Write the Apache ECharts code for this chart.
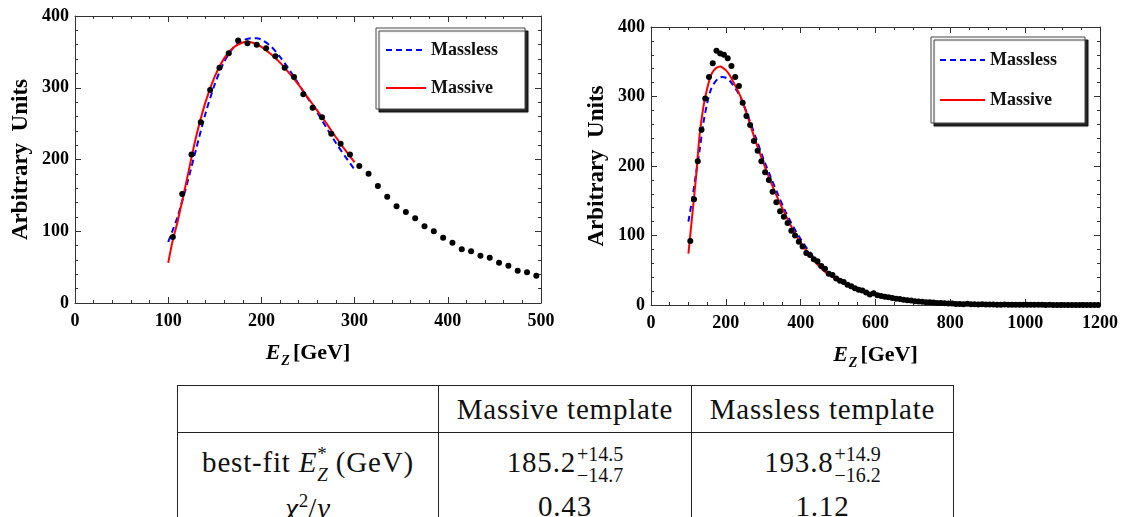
<!DOCTYPE html>
<html>
<head>
<meta charset="utf-8">
<script src="https://cdn.jsdelivr.net/npm/echarts@6/dist/echarts.min.js"></script>
<style>
  html, body { margin: 0; padding: 0; background: #fff; }
  #page { position: relative; width: 1121px; height: 517px; overflow: hidden; }
  #chart { position: absolute; left: 0; top: 0; width: 1121px; height: 382px; }
  #fits { position: absolute; left: 177px; top: 385px; border-collapse: collapse;
          font-family: 'Liberation Serif', 'Times New Roman', Times, 'DejaVu Serif', serif;
          font-size: 29px; letter-spacing: 0.8px; color: #111; }
  #fits td { border: 1.5px solid #222; text-align: center; vertical-align: middle; padding: 0;
             white-space: nowrap; line-height: 1; }
  #fits tr.mid td { border-bottom: none; padding-top: 6px; }
  #fits tr.last td { border-top: none; }
  .ss { display: inline-flex; flex-direction: column; vertical-align: middle; line-height: 1.05;
        font-size: 20px; letter-spacing: 0; text-align: left; margin-left: 1px; }
  .ss span { display: block; }
  .ssE { display: inline-flex; flex-direction: column; vertical-align: middle; line-height: 1.1;
         font-size: 19px; letter-spacing: 0; text-align: left; }
  sup { font-size: 19px; letter-spacing: 0; }
</style>
</head>
<body>
<div id="page">
  <div id="chart"></div>
  <table id="fits"></table>
</div>
<script>
// histogram bin centres (GeV) and contents
const binE = [105,115,125,135,145,155,165,175,185,195,205,215,225,235,245,255,265,275,285,295,
  305,315,325,335,345,355,365,375,385,395,405,415,425,435,445,455,465,475,485,495,
  505,515,525,535,545,555,565,575,585,595,605,615,625,635,645,655,665,675,685,695,
  705,715,725,735,745,755,765,775,785,795,805,815,825,835,845,855,865,875,885,895,
  905,915,925,935,945,955,965,975,985,995,1005,1015,1025,1035,1045,1055,1065,1075,1085,1095,
  1105,1115,1125,1135,1145,1155,1165,1175,1185,1195]
const counts = [92,152,207,252,297,328,348,366,362,360,355,344,328,315,291,272,259,236,222,207,
  191,180,163,148,135,127,118,107,100,91,84,75,72,66,63,56,52,45,43,38,
  35,33,29,27,24,22,21,18,15,17,14,13,12,11,10,9,8.5,7.5,7,6.5,
  5.5,5,4.5,4,4,3.5,3,3,2.5,2,2,1.5,1.5,1.2,1.8,1,1,0.8,1,0.7,
  0.6,0.8,0.5,0.5,0.7,0.4,0.4,0.5,0.3,0.3,0.3,0.2,0.3,0.2,0.2,0.1,0.2,0.1,0.1,0.1,
  0.1,0.1,0.1,0.1,0,0.1,0,0,0,0]

// fits over 100-300 GeV (left panel)
const leftMassiveE = [100,105,110,120,130,140,150,160,170,180,185,190,200,210,220,230,240,250,260,270,280,290,300]
const leftMassive = [56,88,113,172,232,280,316,341,356,363,364,363,357,347,335,320,304,286,268,250,231,213,196]
const leftMasslessE = [100,110,120,130,140,150,160,170,180,190,195,200,210,220,230,240,250,260,270,280,290,300]
const leftMassless = [85,120,165,215,264,305,336,356,366,369,369,367,358,343,325,305,285,265,244,223,204,186]

// fits over the full range (right panel)
const rightMassiveE = [100,110,120,130,140,150,160,170,180,186,190,200,210,220,240,260,280,300,320,340,360,380,400,
  420,440,460,480,500,550,600,650,700,750,800,850,900,1000,1100,1200]
const rightMassive = [74,128,182,245,285,311,330,339,342.5,343,342,338,331,321,299,268,235,205,177,152,129,108,90,
  75,61,50,42,36,22,14,9,6,4,2.6,1.7,1.1,0.5,0.2,0.1]
const rightMasslessE = [100,110,120,130,140,150,160,170,180,190,200,210,220,230,240,250,260,280,300,320,340,360,380,400,
  420,440,460,480,500,550,600,650,700,750,800,850,900,1000,1100,1200]
const rightMassless = [120,152,188,223,262,290,310,320,326,328,327,323,316,308,298,285,271,241,211,184,158,134,113,95,
  79,65,53,44,36,22,14,8.5,5.5,3.5,2.2,1.4,0.9,0.4,0.15,0.05]

const yTicks = [0, 400, 100]
const legendNames = ['Massless', 'Massive']

// table
const tableHead = ['Massive template', 'Massless template']
const bestFit = [['185.2', '+14.5', '\u221214.7'], ['193.8', '+14.9', '\u221216.2']]
const chi2 = ['0.43', '1.12']

const FONT = "'Liberation Serif', 'Times New Roman', Times, 'DejaVu Serif', serif"
const INK = '#333'
const labelFont = { fontFamily: FONT, fontWeight: 'bold', fontSize: 18, color: '#000' }

function pairs(xs, ys) {
  return xs.map((x, i) => [x, ys[i]])
}

function xAxis(grid, max, interval, minor, position) {
  const main = position === 'bottom'
  return {
    type: 'value', gridIndex: grid, position, min: 0, max, interval,
    axisLine: { show: true, onZero: false, lineStyle: { color: INK, width: 1 } },
    axisTick: { show: true, inside: true, length: 6, lineStyle: { color: INK } },
    minorTick: { show: true, splitNumber: minor, length: 3, lineStyle: { color: INK } },
    splitLine: { show: false },
    axisLabel: { show: main, margin: 9, showMinLabel: true, showMaxLabel: true, formatter: v => String(v), ...labelFont },
    name: main ? '{e|E}{z|Z}{g|[GeV]}' : '',
    nameLocation: 'middle', nameGap: 35,
    nameTextStyle: {
      rich: {
        e: { fontFamily: FONT, fontWeight: 'bold', fontStyle: 'italic', fontSize: 22, lineHeight: 30, color: '#000' },
        z: { fontFamily: FONT, fontWeight: 'bold', fontStyle: 'italic', fontSize: 14, lineHeight: 16, verticalAlign: 'bottom', color: '#000', padding: [0, 3, 0, 1] },
        g: { fontFamily: FONT, fontWeight: 'bold', fontSize: 22, lineHeight: 30, color: '#000' }
      }
    }
  }
}

function yAxis(grid, position) {
  const main = position === 'left'
  return {
    type: 'value', gridIndex: grid, position, min: yTicks[0], max: yTicks[1], interval: yTicks[2],
    axisLine: { show: true, onZero: false, lineStyle: { color: INK, width: 1 } },
    axisTick: { show: true, inside: true, length: 6, lineStyle: { color: INK } },
    minorTick: { show: true, splitNumber: 5, length: 3, lineStyle: { color: INK } },
    splitLine: { show: false },
    axisLabel: { show: main, margin: 6, showMinLabel: true, showMaxLabel: true, ...labelFont },
    name: main ? 'Arbitrary  Units' : '',
    nameLocation: 'middle', nameRotate: 90, nameGap: 42,
    nameTextStyle: { fontFamily: FONT, fontWeight: 'bold', fontSize: 23, color: '#000' }
  }
}

function legend(pos, top, padding, itemWidth, itemGap, itemTextGap) {
  return {
    data: legendNames, orient: 'vertical', ...pos, top, padding,
    itemWidth, itemHeight: 14, itemGap, itemTextGap,
    itemStyle: { opacity: 0 },
    backgroundColor: '#fff', borderColor: '#444', borderWidth: 1,
    shadowColor: 'rgba(0,0,0,0.85)', shadowBlur: 1, shadowOffsetX: 3, shadowOffsetY: 3,
    textStyle: { fontFamily: FONT, fontWeight: 'bold', fontSize: 18, color: '#111' }
  }
}

function fitSeries(name, xi, yi, data) {
  const dashed = name === 'Massless'
  return {
    name, type: 'line', xAxisIndex: xi, yAxisIndex: yi, data, symbol: 'none', smooth: 0.3,
    lineStyle: dashed ? { color: '#0000ff', width: 2, type: [6, 4] } : { color: '#ff0000', width: 2 },
    itemStyle: { color: dashed ? '#0000ff' : '#ff0000' },
    z: dashed ? 3 : 4
  }
}

const points = pairs(binE, counts)
const dotStyle = { color: '#000', opacity: 1 }

const option = {
  animation: false,
  grid: [
    { left: 75, top: 16, width: 466, height: 287 },
    { left: 651, top: 27, width: 451, height: 278 }
  ],
  xAxis: [
    xAxis(0, 500, 100, 5, 'bottom'), xAxis(0, 500, 100, 5, 'top'),
    xAxis(1, 1200, 200, 4, 'bottom'), xAxis(1, 1200, 200, 4, 'top')
  ],
  yAxis: [yAxis(0, 'left'), yAxis(0, 'right'), yAxis(1, 'left'), yAxis(1, 'right')],
  legend: [
    legend({ right: 596 }, 28, [13, 27, 12, 9], 40, 20, 11),
    legend({ right: 36 }, 37, [14, 28, 14, 8], 45, 22, 8)
  ],
  series: [
    { type: 'scatter', xAxisIndex: 0, yAxisIndex: 0, data: points.filter(p => p[0] <= 500),
      symbolSize: 6, itemStyle: dotStyle, z: 5 },
    fitSeries('Massless', 0, 0, pairs(leftMasslessE, leftMassless)),
    fitSeries('Massive', 0, 0, pairs(leftMassiveE, leftMassive)),
    { type: 'scatter', xAxisIndex: 2, yAxisIndex: 2, data: points,
      symbolSize: 6, itemStyle: dotStyle, z: 5 },
    fitSeries('Massless', 2, 2, pairs(rightMasslessE, rightMassless)),
    fitSeries('Massive', 2, 2, pairs(rightMassiveE, rightMassive))
  ]
}

const chart = echarts.init(document.getElementById('chart'), null, { renderer: 'canvas' })
chart.setOption(option)

// results table
const tbl = document.getElementById('fits')
tbl.innerHTML =
  '<colgroup><col style="width:261px"><col style="width:253px"><col style="width:262px"></colgroup>' +
  '<tr style="height:47px"><td></td>' + tableHead.map(h => '<td>' + h + '</td>').join('') + '</tr>' +
  '<tr class="mid" style="height:58px"><td>best-fit <i>E</i><span class="ssE"><span>*</span><span><i>Z</i></span></span> (GeV)</td>' +
  bestFit.map(b => '<td>' + b[0] + '<span class="ss"><span>' + b[1] + '</span><span>' + b[2] + '</span></span></td>').join('') + '</tr>' +
  '<tr class="last" style="height:26px"><td><i>\u03c7</i><sup>2</sup>/<i>\u03bd</i></td>' +
  chi2.map(c => '<td>' + c + '</td>').join('') + '</tr>'
</script>
</body>
</html>
